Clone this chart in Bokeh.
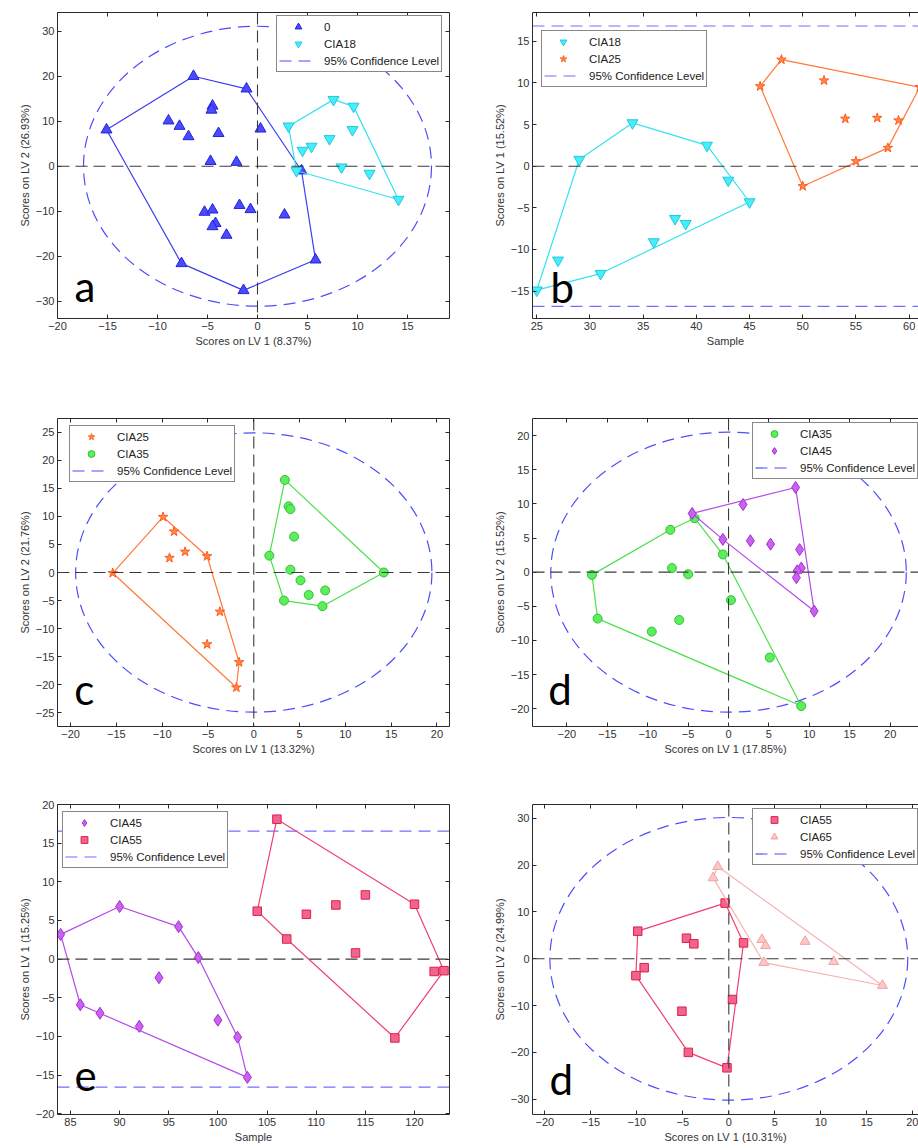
from bokeh.plotting import figure
from bokeh.layouts import column, row
from bokeh.models import Range1d, Span, Legend, LegendItem, Label, LinearAxis, FixedTicker
from bokeh.embed import file_html
from bokeh.resources import INLINE

# ---------------- data ----------------
# panel a
a_c0_x = [-6.4, -1.1, -15.1, -8.9, -7.8, -6.9, -4.5, -4.6, -3.9, 0.3, -4.7, -2.1, 4.4, -5.3, -4.5, -4.2, -4.5, -3.1, -1.8, -0.7, 2.7, 5.8, -7.6, -1.4]
a_c0_y = [20.0, 17.2, 8.1, 10.1, 8.9, 6.6, 13.4, 12.5, 7.3, 8.3, 1.1, 0.9, -1.0, -10.2, -9.7, -12.7, -13.4, -15.3, -8.7, -9.6, -10.8, -20.8, -21.6, -27.6]
a_c18_x = [7.6, 9.6, 3.1, 9.5, 7.2, 5.4, 4.5, 8.4, 3.9, 11.2, 14.1]
a_c18_y = [14.8, 13.3, 8.9, 8.1, 6.1, 4.4, 3.5, -0.2, -1.0, -1.6, -7.4]
# panel b
b_c18_x = [25, 27, 29, 31, 34, 36, 38, 39, 41, 43, 45]
b_c18_y = [-14.9, -11.3, 0.8, -12.9, 5.2, -9.1, -6.3, -6.9, 2.5, -1.7, -4.3]
b_c25_x = [46, 48, 50, 52, 54, 55, 57, 58, 59, 61]
b_c25_y = [9.6, 12.8, -2.4, 10.3, 5.7, 0.6, 5.8, 2.2, 5.5, 9.5]
# panel c
c_c25_x = [-9.9, -8.7, -9.2, -7.5, -5.1, -15.4, -3.7, -5.1, -1.6, -1.9]
c_c25_y = [9.9, 7.3, 2.6, 3.7, 2.9, -0.1, -7.0, -12.8, -16.0, -20.5]
c_c35_x = [3.4, 3.8, 4.0, 4.4, 1.7, 4.0, 5.1, 6.0, 7.8, 3.3, 7.5, 14.2]
c_c35_y = [16.5, 11.8, 11.3, 6.4, 3.0, 0.5, -1.4, -4.0, -3.2, -5.0, -6.0, 0.0]
# panel d
d_c35_x = [-16.9, -16.2, -7.2, -7.0, -5.0, -4.2, -9.5, -6.1, -0.7, 0.3, 5.1, 9.0]
d_c35_y = [-0.4, -6.8, 6.2, 0.6, -0.3, 7.9, -8.7, -7.0, 2.6, -4.1, -12.5, -19.6]
d_c45_x = [-4.5, 1.8, 8.3, -0.7, 2.7, 5.2, 8.8, 9.0, 8.5, 8.4, 10.6]
d_c45_y = [8.6, 9.9, 12.4, 4.8, 4.6, 4.1, 3.3, 0.6, 0.2, -0.8, -5.7]
# panel e
e_c45_x = [84, 86, 88, 90, 92, 94, 96, 98, 100, 102, 103]
e_c45_y = [3.2, -5.9, -7.0, 6.8, -8.7, -2.4, 4.2, 0.2, -7.9, -10.1, -15.3]
e_c55_x = [104, 106, 107, 109, 112, 114, 115, 118, 120, 122, 123]
e_c55_y = [6.2, 18.1, 2.6, 5.8, 7.0, 0.8, 8.3, -10.2, 7.1, -1.6, -1.5]
# panel f
f_c55_x = [-0.4, -9.9, -4.6, -3.8, 1.6, -9.2, -10.1, 0.4, -5.1, -4.4, -0.2]
f_c55_y = [11.9, 5.9, 4.4, 3.2, 3.4, -1.9, -3.6, -8.7, -11.2, -20.0, -23.3]
f_c65_x = [-1.2, -1.7, 3.6, 4.0, 3.8, 8.3, 11.4, 16.7]
f_c65_y = [19.7, 17.3, 4.1, 2.8, -0.8, 3.7, -0.6, -5.7]

# 95% confidence limits (ellipse semi-axes / horizontal limits)
a_conf = (17.4, 31.1)
b_conf = 16.85
c_conf = (19.45, 24.9)
d_conf = (22.0, 20.5)
e_conf = 16.55
f_conf = (19.45, 30.2)

# ---------------- styles ----------------
FONT = "Liberation Sans"
CONF_COL = "#4d4dff"
CONF_COL_H = "#7070ff"
ZERO_COL = "#3a3a3a"
STY = {
    "0":     dict(marker="triangle", fill="#4a4aff", edge="#2424d8", line="#3c3cf0", size=11),
    "CIA18": dict(marker="inverted_triangle", fill="#45eefa", edge="#22c8e0", line="#33e3f0", size=11),
    "CIA25": dict(marker="star", fill="#ff8a4a", edge="#ff5a1e", line="#ff7a3a", size=10),
    "CIA35": dict(marker="circle", fill="#5cee5c", edge="#33c033", line="#4ce04c", size=9),
    "CIA45": dict(marker="diamond", fill="#cc60f0", edge="#a030d0", line="#b44be8", size=12),
    "CIA55": dict(marker="square", fill="#f2648c", edge="#dc2050", line="#f04070", size=8.5),
    "CIA65": dict(marker="triangle", fill="#fbc8c8", edge="#f2a2a2", line="#f6b3b3", size=10),
}


def hull(xs, ys):
    pts = sorted(set(zip(xs, ys)))

    def cross(o, a, b):
        return (a[0] - o[0]) * (b[1] - o[1]) - (a[1] - o[1]) * (b[0] - o[0])

    lower = []
    for q in pts:
        while len(lower) >= 2 and cross(lower[-2], lower[-1], q) <= 0:
            lower.pop()
        lower.append(q)
    upper = []
    for q in reversed(pts):
        while len(upper) >= 2 and cross(upper[-2], upper[-1], q) <= 0:
            upper.pop()
        upper.append(q)
    h = lower[:-1] + upper[:-1]
    h.append(h[0])
    return [q[0] for q in h], [q[1] for q in h]


def style_axis(ax, ticks, label=None, show=True):
    ax.ticker = FixedTicker(ticks=ticks)
    ax.major_tick_in = 4
    ax.major_tick_out = 0
    ax.minor_tick_line_color = None
    ax.axis_line_color = "#2a2a2a"
    ax.major_tick_line_color = "#2a2a2a"
    if show:
        ax.axis_label = label
        ax.axis_label_text_font = FONT
        ax.axis_label_text_font_size = "11px"
        ax.axis_label_text_font_style = "normal"
        ax.axis_label_text_color = "#333333"
        ax.axis_label_standoff = 2
        ax.major_label_text_font = FONT
        ax.major_label_text_font_size = "11px"
        ax.major_label_text_color = "#333333"
        ax.major_label_standoff = 3
    else:
        ax.major_label_text_font_size = "1px"
        ax.major_label_text_color = None
        ax.major_label_standoff = 0
        ax.axis_label = None


def panel(xr, yr, w, h, left, right, top, bottom, xticks, yticks, xlabel, ylabel, right_axis):
    p = figure(x_range=Range1d(*xr), y_range=Range1d(*yr), width=w, height=h,
               min_border_left=left, min_border_right=right, min_border_top=top,
               min_border_bottom=bottom, output_backend="svg", toolbar_location=None)
    p.outline_line_color = None
    p.grid.visible = False
    style_axis(p.xaxis[0], xticks, xlabel)
    style_axis(p.yaxis[0], yticks, ylabel)
    ax_top = LinearAxis()
    style_axis(ax_top, xticks, show=False)
    p.add_layout(ax_top, "above")
    if right_axis:
        ax_r = LinearAxis()
        style_axis(ax_r, yticks, show=False)
        p.add_layout(ax_r, "right")
    return p


def zero_lines(p, vertical=True):
    p.add_layout(Span(location=0, dimension="width", line_color=ZERO_COL, line_dash="12 6", line_width=1.1))
    if vertical:
        p.add_layout(Span(location=0, dimension="height", line_color=ZERO_COL, line_dash="12 6", line_width=1.1))


def group(p, name, xs, ys):
    s = STY[name]
    hx, hy = hull(xs, ys)
    p.line(hx, hy, line_color=s["line"], line_width=1.2)
    r = p.scatter(xs, ys, marker=s["marker"], size=s["size"], fill_color=s["fill"],
                  line_color=s["edge"], line_width=1)
    return r


def conf_ellipse(p, semi):
    p.ellipse(x=0, y=0, width=2 * semi[0], height=2 * semi[1], fill_color=None,
              line_color=CONF_COL, line_dash="12 7", line_width=1.2)
    # legend proxy: zero-length line at the centre carrying the line style
    return p.line(x=[0, 0], y=[0, 0], line_color=CONF_COL, line_dash="12 7", line_width=1.2)


def legend(p, items, loc):
    lg = Legend(items=[LegendItem(label=lab, renderers=[r]) for lab, r in items], location=loc,
                glyph_width=38, glyph_height=17, label_height=13, label_standoff=7, padding=2,
                spacing=0, margin=0, border_line_color="#111111", border_line_width=1,
                background_fill_color="white", background_fill_alpha=1.0,
                label_text_font=FONT, label_text_font_size="11.5px", label_text_color="#222222")
    p.add_layout(lg)


def letter(p, x, y, t):
    p.add_layout(Label(x=x, y=y, text=t, text_font="Lato", text_font_size="42px",
                       text_color="black", text_baseline="alphabetic"))


# geometry: figure widths/heights and borders (page has no margin)
LWID, LL, LR = 459, 57, 10     # left column
RWID, RL, RR = 459, 73, 0      # right column
H1, T1, B1 = 398, 12, 80
H2, T2, B2 = 392, 20, 64
H3, T3, B3 = 358, 14, 34

# ---------------- panel a ----------------
pa = panel((-20.0, 19.2), (-33.84, 34.16), LWID, H1, LL, LR, T1, B1,
           list(range(-20, 20, 5)), list(range(-30, 31, 10)),
           "Scores on LV 1 (8.37%)", "Scores on LV 2 (26.93%)", True)
zero_lines(pa)
ea = conf_ellipse(pa, a_conf)
r0 = group(pa, "0", a_c0_x, a_c0_y)
r18 = group(pa, "CIA18", a_c18_x, a_c18_y)
legend(pa, [("0", r0), ("CIA18", r18), ("95% Confidence Level", ea)], (219, 246))
letter(pa, -18.3, -26.7, "a")

# ---------------- panel b ----------------
pb = panel((24.6, 60.88), (-18.3, 18.47), RWID, H1, RL, RR, T1, B1,
           list(range(25, 61, 5)), list(range(-15, 16, 5)),
           "Sample", "Scores on LV 1 (15.52%)", False)
zero_lines(pb, vertical=False)
cb = pb.segment(x0=[24.6, 24.6], x1=[60.88, 60.88], y0=[b_conf, -b_conf], y1=[b_conf, -b_conf],
                line_color=CONF_COL_H, line_dash="12 7", line_width=1.2)
rb18 = group(pb, "CIA18", b_c18_x, b_c18_y)
rb25 = group(pb, "CIA25", b_c25_x, b_c25_y)
legend(pb, [("CIA18", rb18), ("CIA25", rb25), ("95% Confidence Level", cb)], (9, 231))
letter(pb, 26.3, -14.5, "b")

# ---------------- panel c ----------------
pc = panel((-21.43, 21.37), (-27.45, 27.45), LWID, H2, LL, LR, T2, B2,
           list(range(-20, 21, 5)), list(range(-25, 26, 5)),
           "Scores on LV 1 (13.32%)", "Scores on LV 2 (21.76%)", True)
zero_lines(pc)
ec = conf_ellipse(pc, c_conf)
rc25 = group(pc, "CIA25", c_c25_x, c_c25_y)
rc35 = group(pc, "CIA35", c_c35_x, c_c35_y)
legend(pc, [("CIA25", rc25), ("CIA35", rc35), ("95% Confidence Level", ec)], (12, 244))
letter(pc, -19.6, -20.8, "c")

# ---------------- panel d ----------------
pd_ = panel((-24.26, 23.51), (-22.6, 22.5), RWID, H2, RL, RR, T2, B2,
            list(range(-20, 21, 5)), list(range(-20, 21, 5)),
            "Scores on LV 1 (17.85%)", "Scores on LV 2 (15.52%)", False)
zero_lines(pd_)
ed = conf_ellipse(pd_, d_conf)
rd35 = group(pd_, "CIA35", d_c35_x, d_c35_y)
rd45 = group(pd_, "CIA45", d_c45_x, d_c45_y)
legend(pd_, [("CIA35", rd35), ("CIA45", rd45), ("95% Confidence Level", ed)], (220, 247))
letter(pd_, -22.3, -17.1, "d")

# ---------------- panel e ----------------
pe = panel((83.68, 123.56), (-20.1, 20.0), LWID, H3, LL, LR, T3, B3,
           list(range(85, 121, 5)), list(range(-20, 21, 5)),
           "Sample", "Scores on LV 1 (15.25%)", True)
zero_lines(pe, vertical=False)
ce = pe.segment(x0=[83.68, 83.68], x1=[123.56, 123.56], y0=[e_conf, -e_conf], y1=[e_conf, -e_conf],
                line_color=CONF_COL_H, line_dash="12 7", line_width=1.2)
re45 = group(pe, "CIA45", e_c45_x, e_c45_y)
re55 = group(pe, "CIA55", e_c55_x, e_c55_y)
legend(pe, [("CIA45", re45), ("CIA55", re55), ("95% Confidence Level", ce)], (5, 246))
letter(pe, 85.4, -15.0, "e")

# ---------------- panel f ----------------
pf = panel((-21.34, 20.62), (-33.27, 32.97), RWID, H3, RL, RR, T3, B3,
           list(range(-20, 21, 5)), list(range(-30, 31, 10)),
           "Scores on LV 1 (10.31%)", "Scores on LV 2 (24.99%)", False)
zero_lines(pf)
ef = conf_ellipse(pf, f_conf)
rf55 = group(pf, "CIA55", f_c55_x, f_c55_y)
rf65 = group(pf, "CIA65", f_c65_x, f_c65_y)
legend(pf, [("CIA55", rf55), ("CIA65", rf65), ("95% Confidence Level", ef)], (220, 249))
letter(pf, -19.5, -25.7, "d")

layout = column(row(pa, pb, spacing=0), row(pc, pd_, spacing=0), row(pe, pf, spacing=0), spacing=0)
open("out.html", "w").write(file_html(layout, INLINE))
